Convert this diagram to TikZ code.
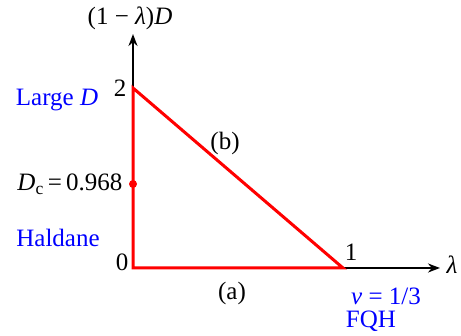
\documentclass[tikz,border=0pt]{standalone}
\usepackage{fontspec}
\setmainfont{Liberation Serif}
\usepackage{xcolor}
\usepackage{tikz}
\usetikzlibrary{positioning, arrows.meta}

\tikzset{
    axis/.style={-{Stealth[length=12pt, width=9pt]}, line width=2.2pt},
    phase/.style={red, line width=3pt},
    lbl/.style={font=\fontsize{25}{29}\selectfont, inner sep=1pt},
    blbl/.style={lbl, blue},
}

\begin{document}
\begin{tikzpicture}[x=1pt, y=-1pt]
    \useasboundingbox (0,0) rectangle (461,336);
    % axes
    \coordinate (O) at (133,268);
    \coordinate (xend) at (440,268);
    \coordinate (yend) at (133,34);
    \coordinate (P1) at (343,268);
    \coordinate (P2) at (133,88);
    \coordinate (Dc) at (133,184);
    \draw[axis] (O) -- (xend);
    \draw[axis] (O) -- (yend);
    \node[lbl] (lam) at (452,265) {\textit{λ}};
    \node[lbl] (ylab) at (130,18) {(1 − \textit{λ})\textit{D}};
    % phase boundary
    \draw[phase, line join=miter] (O) -- (P1) -- (P2) -- cycle;
    \fill[red] (Dc) circle (4pt);
    % ticks and labels
    \node[lbl] (two) at (120,88) {2};
    \node[lbl] (zero) at (122,262) {0};
    \node[lbl] (one) at (351,252) {1};
    \node[lbl] (b) at (225,143) {(b)};
    \node[lbl] (a) at (232,293) {(a)};
    \node[lbl] (dclab) at (70,184) {\textit{D}\textsubscript{c}\,=\,0.968};
    \node[blbl] (large) at (57,100) {Large \textit{D}};
    \node[blbl] (haldane) at (58,238) {Haldane};
    \node[blbl] (nu) at (386,296) {\textit{ν} = 1/3};
    \node[blbl] (fqh) at (371,321) {FQH};
\end{tikzpicture}
\end{document}
